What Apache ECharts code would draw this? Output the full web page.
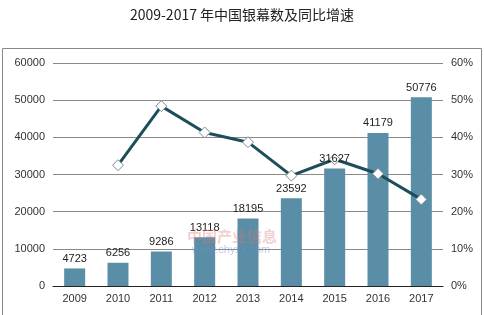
<!DOCTYPE html>
<html><head><meta charset="utf-8">
<script src="https://cdn.jsdelivr.net/npm/echarts@6/dist/echarts.min.js"></script>
<style>html,body{margin:0;padding:0;background:#fff}#c{width:484px;height:315px}</style>
</head><body><div id="c"></div>
<script>
const categories = ['2009','2010','2011','2012','2013','2014','2015','2016','2017'];
const screens = [4723, 6256, 9286, 13118, 18195, 23592, 31627, 41179, 50776];
const growth = [null, 32.5, 48.4, 41.3, 38.7, 29.7, 34.1, 30.2, 23.3];
const leftTicks = [0, 10000, 20000, 30000, 40000, 50000, 60000];
const rightTicks = [0, 10, 20, 30, 40, 50, 60];

const chart = echarts.init(document.getElementById('c'));
chart.setOption({
  animation: false,
  title: {
    text: '2009-2017 年中国银幕数及同比增速',
    left: 'center', top: 3,
    textStyle: {fontSize: 14, fontWeight: 'normal', color: '#222', fontFamily: 'Noto Sans CJK SC'}
  },
  graphic: [
    {type: 'rect', shape: {x: 2.5, y: 48.5, width: 479, height: 280}, style: {fill: 'none', stroke: '#888', lineWidth: 1}, z: -1},
    {type: 'text', left: 187, top: 229, style: {text: '中国产业信息', fill: 'rgba(220,120,120,0.35)', font: 'bold 15px "Noto Sans CJK SC"'}, z: 100},
    {type: 'text', left: 192, top: 244, style: {text: 'www.chyxx.com', fill: 'rgba(120,140,200,0.45)', font: '11px Arial'}, z: 100}
  ],
  grid: {left: 53, right: 41, top: 63, bottom: 29},
  xAxis: {
    type: 'category', data: categories,
    axisLine: {lineStyle: {color: '#222'}},
    axisTick: {show: false},
    axisLabel: {color: '#333', fontSize: 11, margin: 7, fontFamily: 'Arial'}
  },
  yAxis: [
    {type: 'value', min: leftTicks[0], max: leftTicks[leftTicks.length-1], interval: 10000,
     axisLine: {show: false}, axisTick: {show: false},
     axisLabel: {color: '#333', fontSize: 11, margin: 8, fontFamily: 'Arial', formatter: v => String(v)},
     splitLine: {lineStyle: {color: '#8a8a8a'}}},
    {type: 'value', min: rightTicks[0], max: rightTicks[rightTicks.length-1], interval: 10,
     axisLine: {show: false}, axisTick: {show: false},
     axisLabel: {color: '#333', fontSize: 11, margin: 8, fontFamily: 'Arial', formatter: '{value}%'},
     splitLine: {show: false}}
  ],
  series: [
    {type: 'bar', data: screens, barWidth: 21, z: 2,
     itemStyle: {color: '#5a8ea7'}},
    {type: 'line', yAxisIndex: 1, data: growth,
     lineStyle: {color: '#1d4e5c', width: 3},
     symbol: 'diamond', symbolSize: 11,
     itemStyle: {color: '#fff', borderColor: '#7a8a90', borderWidth: 1},
     z: 5},
    {type: 'bar', data: screens, barWidth: 21, barGap: '-100%', z: 10, silent: true,
     itemStyle: {color: 'rgba(0,0,0,0)'},
     label: {show: true, position: 'top', color: '#222', fontSize: 11, fontFamily: 'Arial', distance: 4}}
  ]
});
</script></body></html>
